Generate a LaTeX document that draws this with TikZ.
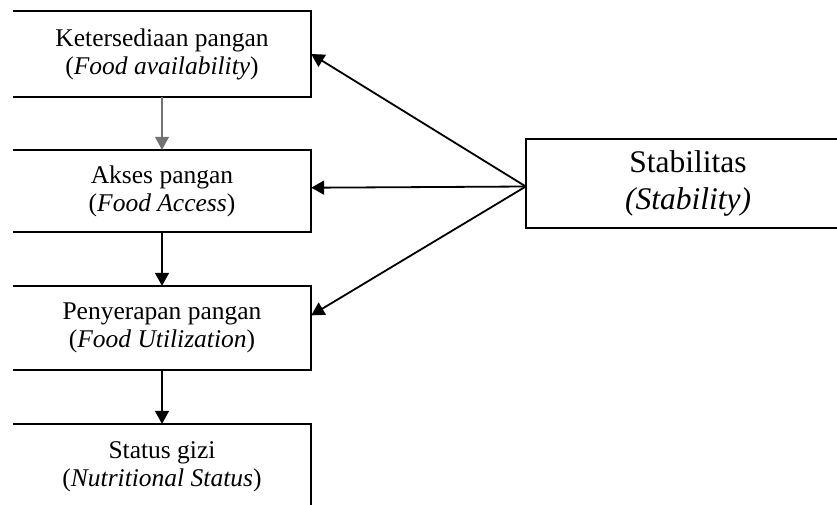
\documentclass[tikz,border=0pt]{standalone}
\usepackage{fontspec}
\setmainfont{Liberation Serif}
\usetikzlibrary{arrows.meta,calc}
\begin{document}
\begin{tikzpicture}[x=1pt,y=-1pt,
  boxnode/.style={draw=none, minimum width=298pt, inner sep=0pt, align=center,
    font=\fontsize{25.5}{28}\selectfont},
  stnode/.style={draw=none, minimum width=324pt, minimum height=89pt, inner sep=0pt,
    align=center, font=\fontsize{31.5}{37}\selectfont},
  outline/.style={line width=1.6pt, black},
  arr/.style={line width=1.8pt, black, -{Triangle[length=13pt,width=14pt]}},
  lightarr/.style={arr, line width=1.2pt, black!55},
]
\clip (0,0) rectangle (837,504);
\fill[white] (0,0) rectangle (837,504);

\node[boxnode, minimum height=86pt] (b1) at (162,54) {Ketersediaan pangan\\(\textit{Food availability})};
\node[boxnode, minimum height=82pt] (b2) at (162,191) {Akses pangan\\(\textit{Food Access})};
\node[boxnode, minimum height=84pt] (b3) at (162,328) {Penyerapan pangan\\(\textit{Food Utilization})};
\node[boxnode, minimum height=85pt] (b4) at (162,466.5) {Status gizi\\(\textit{Nutritional Status})};
\node[stnode] (st) at (688,183.5) {Stabilitas\\\textit{(Stability)}};

\foreach \b in {b1,b2,b3,b4}{
  \draw[outline] (\b.north west) -- (\b.north east) -- (\b.south east) -- (\b.south west);
}
\draw[outline] (st.north east) -- (st.north west) -- (st.south west) -- (st.south east);

\draw[lightarr] (b1.south) -- (b2.north);
\draw[arr] (b2.south) -- (b3.north);
\draw[arr] (b3.south) -- (b4.north);

\coordinate (src) at ($(st.west)+(0,3)$);
\draw[arr] (src) -- (b1.east);
\draw[arr] (src) -- ($(b2.north east)!0.46!(b2.south east)$);
\draw[arr] (src) -- ($(b3.north east)!0.35!(b3.south east)$);
\end{tikzpicture}
\end{document}
